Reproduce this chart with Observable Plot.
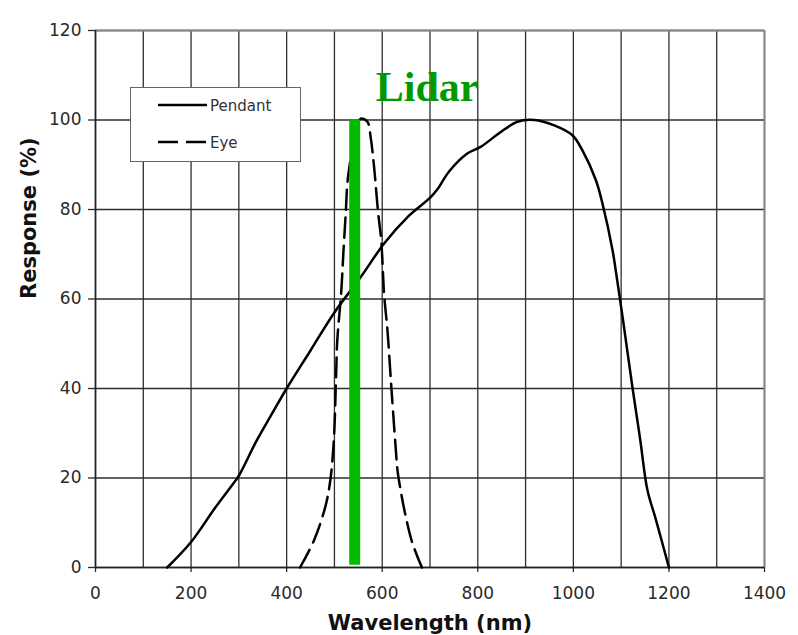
<!DOCTYPE html>
<html>
<head>
<meta charset="utf-8">
<script src="https://cdn.jsdelivr.net/npm/d3@7"></script>
<script src="https://cdn.jsdelivr.net/npm/@observablehq/plot@0.6"></script>
<style>
  html, body { margin: 0; padding: 0; background: #fff; overflow: hidden; }
  #wrap { position: relative; width: 798px; height: 635px; }
  #legend { position: absolute; left: 130px; top: 87px; width: 171px; height: 75px;
            box-sizing: border-box; border: 1.5px solid #666; background: #fff; }
</style>
</head>
<body>
<div id="wrap"><div id="chart"></div><div id="legend"></div></div>
<script>
// Pendant response (wavelength nm, response %)
const pendantWl  = [150, 200, 250, 290, 300, 338, 370, 400, 450, 500, 555, 604, 653, 702, 716, 740, 778, 806, 848, 883, 918, 960, 998, 1019, 1047, 1061, 1082, 1092, 1103, 1124, 1140, 1155, 1173, 1200];
const pendantVal = [0, 5.7, 13.3, 19, 20.5, 28.5, 34.5, 40, 48.5, 57, 64.9, 72.4, 78.3, 82.8, 84.6, 88.5, 92.5, 94, 97.3, 99.6, 100, 98.8, 96.6, 93.2, 86.6, 81.3, 70.9, 64, 56, 40, 28.5, 17.3, 10.6, 0];
// Eye response
const eyeWl  = [428, 457, 482, 492, 499, 503, 506, 514, 519, 524, 527, 532, 545, 555, 569, 576, 583, 591, 598, 604, 611, 618, 621, 628, 632, 639, 648, 663, 683];
const eyeVal = [0, 6, 14, 20, 29, 41, 50.8, 61.2, 70.9, 79.8, 85.8, 90, 98, 100.3, 99.6, 96, 89.5, 79.8, 73, 61, 53, 42, 37.4, 27, 21.7, 17, 12, 5.5, 0];
// Lidar band
const lidarName = ["Lidar"];
const lidarStart = [532];
const lidarEnd = [555];
const lidarLow = [0.5];
const lidarHigh = [100];
// Axes
const xTicks = [0, 200, 400, 600, 800, 1000, 1200, 1400];
const xGrid = [0, 100, 200, 300, 400, 500, 600, 700, 800, 900, 1000, 1100, 1200, 1300, 1400];
const yTicks = [0, 20, 40, 60, 80, 100, 120];
const xTitle = "Wavelength (nm)";
const yTitle = "Response (%)";
const seriesNames = ["Pendant", "Eye"];
const seriesDash = [null, "20,8"];

const pendant = pendantWl.map((x, i) => ({x, y: pendantVal[i]}));
const eye = eyeWl.map((x, i) => ({x, y: eyeVal[i]}));
const lidar = lidarName.map((name, i) => ({name, x1: lidarStart[i], x2: lidarEnd[i], y1: lidarLow[i], y2: lidarHigh[i]}));

const chart = Plot.plot({
  width: 798,
  height: 635,
  marginLeft: 95,
  marginRight: 34,
  marginTop: 30,
  marginBottom: 68,
  style: {fontFamily: "DejaVu Sans, Verdana, sans-serif", background: "#fff", overflow: "visible"},
  x: {domain: [0, 1400]},
  y: {domain: [0, 120]},
  marks: [
    Plot.ruleX(xGrid, {stroke: "#2e2e2e", strokeWidth: 1.3, strokeOpacity: 1}),
    Plot.ruleY(yTicks, {stroke: "#2e2e2e", strokeWidth: 1.3, strokeOpacity: 1}),
    Plot.ruleX([xGrid[xGrid.length - 1]], {stroke: "#8a8a8a", strokeWidth: 2}),
    Plot.ruleY([yTicks[yTicks.length - 1]], {stroke: "#8a8a8a", strokeWidth: 2}),
    Plot.axisX(xTicks, {tickSize: 5, tickPadding: 14, fontSize: 17, color: "#2a2a2a", label: null, strokeWidth: 1.3, tickFormat: d => String(d)}),
    Plot.axisY(yTicks, {tickSize: 7, tickPadding: 7, fontSize: 17, color: "#2a2a2a", label: null, strokeWidth: 1.3, tickFormat: d => String(d)}),
    Plot.ruleX([xGrid[0]], {stroke: "#222", strokeWidth: 1.6}),
    Plot.ruleY([yTicks[0]], {stroke: "#222", strokeWidth: 1.6}),
    Plot.line(pendant, {x: "x", y: "y", stroke: "#000", strokeWidth: 2.5, curve: "catmull-rom"}),
    Plot.line(eye, {x: "x", y: "y", stroke: "#000", strokeWidth: 2.5, strokeDasharray: seriesDash[1], curve: "catmull-rom"}),
    Plot.rect(lidar, {x1: "x1", x2: "x2", y1: "y1", y2: "y2", fill: "#00bb00", insetLeft: 0, insetRight: 0}),
    Plot.text(lidar, {x: "x2", y: "y2", text: "name", dx: 15, dy: -19, textAnchor: "start", lineAnchor: "bottom",
                      fontSize: 42, fontWeight: "bold", fontFamily: "Liberation Serif, Times New Roman, serif", fill: "#009a00"}),
    Plot.text([yTitle], {frameAnchor: "left", dx: -66, rotate: -90, fontSize: 21, fontWeight: "bold", fill: "#111"}),
    Plot.text([xTitle], {frameAnchor: "bottom", dy: 62, lineAnchor: "bottom", fontSize: 21, fontWeight: "bold", fill: "#111"})
  ]
});
document.getElementById("chart").append(chart);

// Legend (inside plot area, over the grid)
const lg = d3.select("#legend").append("svg").attr("width", 168).attr("height", 72)
  .style("position", "absolute").style("left", "0px").style("top", "0px");
const rowsY = [17, 54];
seriesNames.forEach((name, i) => {
  const line = lg.append("line").attr("x1", 27).attr("x2", 76).attr("y1", rowsY[i]).attr("y2", rowsY[i])
    .attr("stroke", "#000").attr("stroke-width", 2.5);
  if (seriesDash[i]) line.attr("stroke-dasharray", seriesDash[i]);
  lg.append("text").attr("x", 79).attr("y", rowsY[i] + 6).text(name)
    .attr("font-family", "DejaVu Sans, Verdana, sans-serif").attr("font-size", 15).attr("fill", "#333");
});
</script>
</body>
</html>
